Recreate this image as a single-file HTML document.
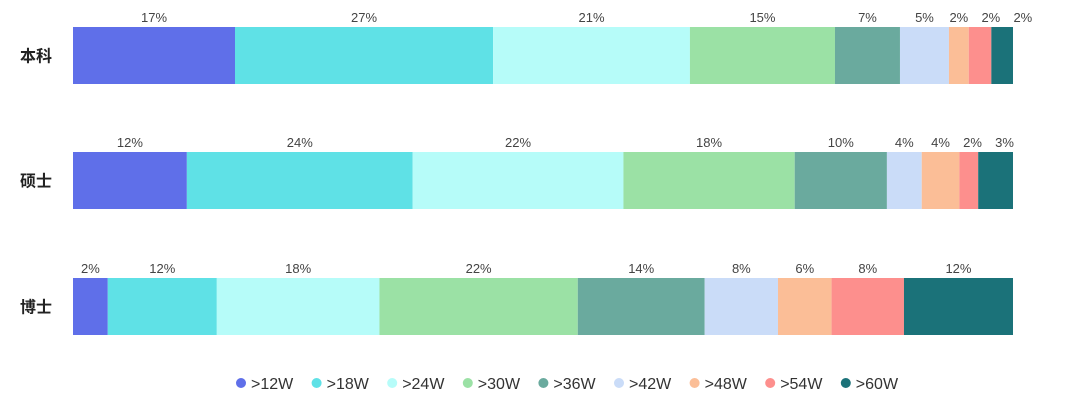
<!DOCTYPE html>
<html><head><meta charset="utf-8">
<style>
html,body{margin:0;padding:0;background:#fff;width:1080px;height:401px;overflow:hidden;font-family:"Liberation Sans","Noto Sans CJK SC",sans-serif;}
</style></head>
<body>
<svg id="chart" width="1080" height="401" xmlns="http://www.w3.org/2000/svg"></svg>
<script>
const categories = ["本科","硕士","博士"];
const seriesNames = [">12W",">18W",">24W",">30W",">36W",">42W",">48W",">54W",">60W"];
const colors = ["#5f6fe9","#5fe1e6","#b6fcf9","#9be1a5","#6aaa9e","#cadcf8","#fbbe97","#fd8f8d","#1b7279"];
const valuesBenke = [17.2,27.4,20.9,15.4,6.9,5.2,2.1,2.4,2.3];
const valuesShuoshi = [12.1,24.0,22.4,18.2,9.8,3.7,4.0,2.0,3.7];
const valuesBoshi = [3.7,11.6,17.3,21.1,13.5,7.8,5.7,7.7,11.6];
const labelsBenke = ["17%","27%","21%","15%","7%","5%","2%","2%","2%"];
const labelsShuoshi = ["12%","24%","22%","18%","10%","4%","4%","2%","3%"];
const labelsBoshi = ["2%","12%","18%","22%","14%","8%","6%","8%","12%"];

const svg = document.getElementById('chart');
const NS = "http://www.w3.org/2000/svg";
const rows = [valuesBenke, valuesShuoshi, valuesBoshi];
const rowLabels = [labelsBenke, labelsShuoshi, labelsBoshi];
const x0 = 73, x1 = 1013;
const rowTop = [27, 152, 278], barH = 57;
function xScale(v,total){ return (v/total)*(x1-x0); }

rows.forEach((vals, r) => {
  const total = vals.reduce((a,b)=>a+b,0);
  const t = document.createElementNS(NS,'text');
  
  
  t.setAttribute('x',20); t.setAttribute('y',rowTop[r]+barH/2+6);
  t.setAttribute('font-size','16'); t.setAttribute('font-weight','bold'); t.setAttribute('fill','#222');
  t.textContent = categories[r]; svg.appendChild(t);
  let acc = 0, prevLx = -100;
  vals.forEach((v,i) => {
    const x = x0 + xScale(acc,total), w = xScale(v,total);
    const rect = document.createElementNS(NS,'rect');
    
    
    rect.setAttribute('x',x); rect.setAttribute('y',rowTop[r]);
    rect.setAttribute('width',w); rect.setAttribute('height',barH);
    rect.setAttribute('fill',colors[i]); svg.appendChild(rect);
    let lx = Math.max(x + w/2, prevLx + 32); prevLx = lx;
    const lt = document.createElementNS(NS,'text');
    
    
    lt.setAttribute('x',lx); lt.setAttribute('y',rowTop[r]-5);
    lt.setAttribute('text-anchor','middle'); lt.setAttribute('font-size','13'); lt.setAttribute('fill','#444');
    lt.textContent = rowLabels[r][i]; svg.appendChild(lt);
    acc += v;
  });
});

seriesNames.forEach((n,i) => {
  const cx = 241 + i*75.6;
  const g = document.createElementNS(NS,'g');
  
  
  const c = document.createElementNS(NS,'circle');
  c.setAttribute('cx',cx); c.setAttribute('cy',383); c.setAttribute('r',5); c.setAttribute('fill',colors[i]);
  g.appendChild(c);
  const t = document.createElementNS(NS,'text');
  t.setAttribute('x',cx+10); t.setAttribute('y',389); t.setAttribute('font-size','16'); t.setAttribute('fill','#333');
  t.textContent = n; g.appendChild(t);
  svg.appendChild(g);
});
</script>
</body></html>
